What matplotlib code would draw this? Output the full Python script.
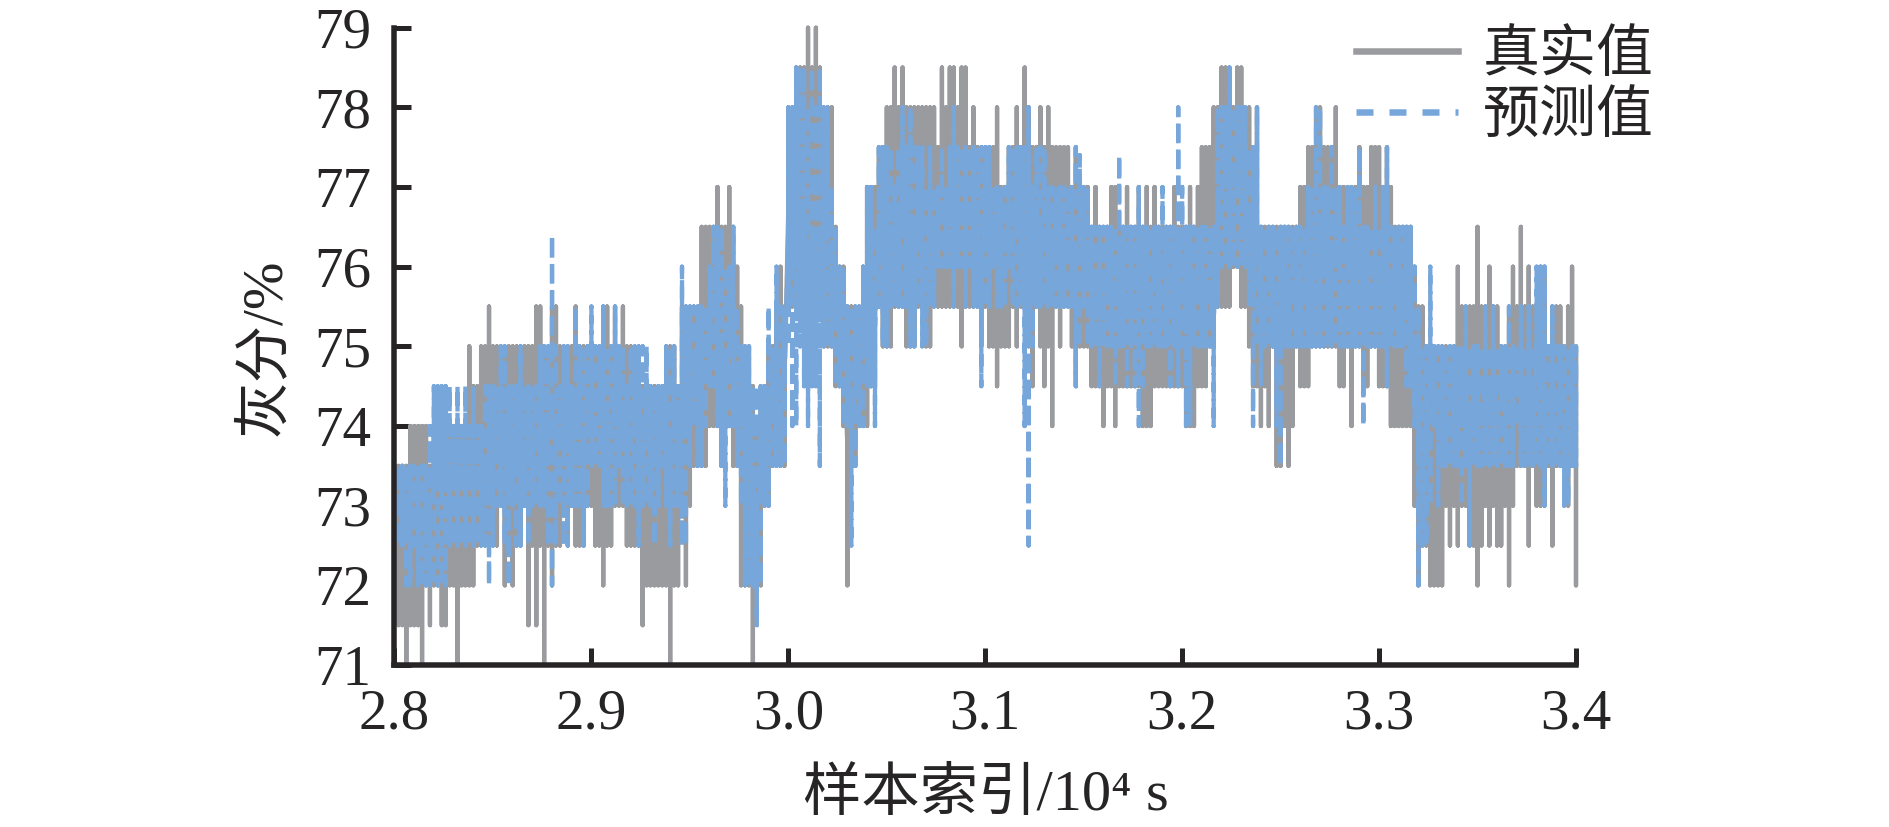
import numpy as np
import matplotlib
matplotlib.use("Agg")
import matplotlib.pyplot as plt
from matplotlib.lines import Line2D

plt.rcParams['font.family'] = ['Liberation Serif', 'Noto Sans CJK SC']
plt.rcParams['lines.scale_dashes'] = False

# 真实值: lower / upper excursion per 20 s window, per 0.1e4 s block
true_low_28 = [72.5,71.5,71.5,71,71.5,71.5,71.5,71,72,71.5,72,72,71.5,71.5,72,72,71,72,72,72,72,72.5,72.5,72.5,72.5,72.5,72.5,73,72,72.5,72,72.5,72.5,73,71.5,72.5,71.5,72.5,71,72.5,72,72.5,72.5,73,72.5,73,72.5,72.5,72.5,73]
true_high_28 = [73.5,73.5,73.5,73.5,74,74,74,74,74,73.5,74,74,74,74,74,74,74,74,74,75,74.5,74.5,75,75,75.5,75,75,75,75,75,75,75,75,75,75,75,75.5,75.5,75,75,75.5,75.5,75,75,75,75,75.5,75,75,75]
true_low_29 = [73,72.5,72.5,72,72.5,72.5,73,73,73,72.5,72.5,72.5,72.5,71.5,72,72,72,72,72,72,71,72,72,73,72,73,73.5,73.5,73.5,73.5,74,74,74,73.5,74,74,73.5,73.5,72,72,72,71,72,72,73,73,73.5,73.5,73.5,73.5]
true_high_29 = [75,75,75,75.5,75.5,75,75.5,75,75.5,75,75,74.5,74.5,74.5,74.5,74.5,74.5,74.5,74.5,75,75,75,74.5,75.5,75.5,75.5,75.5,75.5,76.5,76.5,76.5,76.5,77,76.5,76.5,77,76.5,76,75.5,75,75,74.5,74,74.5,74.5,75,75,75.5,76,75.5]
true_low_30 = [75.5,75.5,75.5,75.5,75.5,75.5,75.5,75.5,75.5,75,75,75,74.5,74.5,74,72,73.5,73.5,74,74,74,74.5,74.5,75.5,75,75,75,75.5,75.5,75.5,75,75,75,75.5,75.5,75,75,75.5,75.5,75.5,75.5,75.5,75.5,75.5,75,75.5,75.5,75.5,75.5,75]
true_high_30 = [78,78,78.5,78.5,78.5,79,78.5,79,78.5,78,78,78,76.5,76,76,75.5,75.5,75.5,75.5,76,77,77,77,77.5,77.5,78,78,78.5,78,78.5,78,78,78,78,78,78,78,78,77.5,78.5,78,78.5,78.5,78,78.5,78.5,77.5,78,77.5,77.5]
true_low_31 = [75.5,75,75,74.5,75,75,75,75.5,75,75.5,75.5,75,74.5,75.5,75,74.5,75,74,75.5,75,75.5,75.5,75,74.5,75,75,75,74.5,74.5,74.5,74,74.5,74.5,74,74.5,74.5,74.5,74.5,74.5,74.5,74,74,74,74.5,74.5,74.5,74.5,74.5,74.5,74.5]
true_high_31 = [77.5,77.5,77.5,78,77,77,77.5,77.5,78,77.5,78.5,78,77.5,77.5,78,77.5,78,77.5,77.5,77.5,77.5,77.5,77,77.5,77,77,77,76.5,77,76.5,76.5,76.5,77,77,76.5,76.5,77,76.5,76.5,77,76.5,77,76.5,77,76.5,76.5,76.5,76.5,77,76.5]
true_low_32 = [74.5,74,74,74,74.5,74.5,74.5,75,75,75.5,75.5,75.5,75.5,76,76,75.5,75.5,75,74.5,74.5,74,74.5,74,75,73.5,73.5,74,73.5,74,75,74.5,74.5,74.5,75,75,75,75,75,75,75,74.5,74.5,75,74,75,75,74.5,74.5,75,75]
true_high_32 = [76.5,76.5,77,76.5,77,77.5,77.5,77.5,78,78,78.5,78.5,78.5,78,78.5,78.5,78,78,77.5,78,76.5,76.5,76.5,76.5,76.5,76.5,76.5,76.5,76.5,76.5,77,77,77.5,77.5,78,78,77.5,77.5,77.5,78,77,77,77,77,77,77.5,77,77,77.5,77.5]
true_low_33 = [74.5,74.5,74.5,74,74,74,74,74,74,73,72,72.5,72.5,72,72,72,72,73,72.5,73,72.5,73,73,72.5,72.5,72,72.5,73,72.5,73,72.5,72.5,73,72,73,73.5,73.5,73.5,72.5,73.5,73,73,73,73.5,72.5,73.5,73.5,73.5,73,73.5,72]
true_high_33 = [77.5,77,77.5,77,76.5,76.5,76.5,76.5,76.5,76,75.5,75.5,75,75,75,75,75,75,75,75,76,75.5,75.5,75.5,75.5,76.5,75.5,75.5,76,75.5,75.5,75,75,75.5,76,75.5,76.5,75.5,76,75.5,75.5,76,76,75,75.5,75.5,75.5,75,75.5,76,75]

# 预测值
pred_low_28 = [72.5,72.5,72.5,72,72,72.5,72,72,72,72,72,72,72,72,72.5,72.5,72.5,72.5,72.5,72.5,72.5,72.5,72.5,72.5,72,72.5,73,73,72.5,72,73,72.5,72.5,73,72.5,73,73,73,73,72.5,72,72.5,73,72.5,72.5,73,73,73,72.5,73]
pred_high_28 = [73.5,73.5,73.5,73.5,73.5,73.5,73.5,73.5,73.5,74,74.5,74.5,74.5,74.5,74.5,74,74.5,74,74.5,74,74.5,74,74,74.5,74.5,74.5,74.5,75,75,74.5,74.5,74.5,75,74.5,74.5,74.5,74.5,75,75,75,76.4,75,74.5,75,75,74.5,75.5,75,75,75]
pred_low_29 = [73.5,73.5,73.5,73,73,73,73,73.5,73,73,73,73,72.5,73,73,73,72.5,73,73.5,73,72.5,73,73,72.5,72.5,73.5,74,73.5,73.5,74,74.5,74.5,74,73.5,73,74,74,73.5,73,72,72,72,71.5,72,73,73,73.5,73.5,73.5,73.5]
pred_high_29 = [75.5,75,75,75.5,75,75,75.5,75,75,74.5,75,75,75,75,75,74.5,74.5,74.5,74.5,75,75,75,74.5,76,75.5,75.5,75.5,75.5,75.5,75.5,76,76.5,76.5,76.5,76,76,76.5,75.5,75,75,75,74.5,74.5,74.5,74.5,75.5,75,76,75.5,75.5]
pred_low_30 = [75,74,74,75,74.5,74,74.5,74.5,73.5,75,75,75,74.5,74.5,74,74,72.5,73.5,74,74,74.5,74.5,74,75.5,75,75,75.5,75.5,75.5,75.5,75.5,75,75,75.5,75,75,75.5,75.5,76,76,76,76,75.5,76,76,75.5,76,75.5,75.5,74.5]
pred_high_30 = [78,78,78.5,78.5,78.5,78,78.5,78,78.5,78,78,77,76.5,76,76,75.5,75.5,75.5,75.5,76,77,77,76.5,77.5,77.5,77.5,77.5,77,77.5,78,77.5,78,77.5,77.5,77.5,77,77.5,77,77,77.5,77,77.5,78,77.5,77.5,77.5,77.5,77.5,77.5,77.5]
pred_low_31 = [75.5,75.5,76,75.5,75.5,75.5,76,75.5,75.5,75.5,74,72.5,75,75.5,75.5,75.5,75.5,75.5,75.5,75.5,75.5,75.5,75.5,74.5,75,75.5,75,75,75,74.5,75,75,75,74.5,75,75,74.5,75,74.5,74,74.5,75,75,75,75,75,75,74.5,75,74.5]
pred_high_31 = [77.5,77.5,77,77,77,77,77.5,77.5,77.5,77.5,77.5,78,77,77.5,77.5,77.5,77,77,77,77,77,77,77,77.5,77.4,77,77,76.5,76.5,76.5,76.5,76.5,76.5,76.5,77.4,76.5,76.5,76.5,76.5,77,76.5,76.5,76.5,76.5,76.5,77,76.5,76.5,76.5,78]
pred_low_32 = [75,74,74,75,75,75,75,75,74,75.5,76,76,76,76,76,76,76,75.5,74,75,74.5,75,75,75,74,73.5,75,75,75,75,75,75,75,75,75,75,75,75,75,75,75,75,75,75,75,75,74,75,75,75]
pred_high_32 = [77,76.5,76.5,76.5,76.5,76.5,76.5,76.5,76.5,78,78,78,78.5,78,78,78,78,77.5,77.5,78,76.5,76.5,76.5,76.5,76.5,76.5,76.5,76.5,76.5,76.5,76.5,76.5,77,77,78,78,77,77,77.5,77,77,76.5,77,77,77,77.5,76.5,76.5,76.5,77]
pred_low_33 = [75,75,74.5,75,75,75,75,74.5,74.5,74,72,72.5,72.5,73,74,73,73.5,73.5,73.5,73.5,73.5,73,73.5,72.5,73.5,73.5,73.5,73.5,73.5,73.5,73.5,73.5,73.5,73.5,73.5,74,73.5,73.5,73.5,73.5,73.5,73.5,73,73.5,73.5,73.5,73.5,73,73,73.5,73.5]
pred_high_33 = [76.5,77,77.5,76.5,76.5,76.5,76.5,76.5,76.5,76,75.5,75,75,76,75,75,75,75,75,75,75,75,75.5,75,75,75,75,75.5,75,75.5,75,75,75,75.5,75,75,75.5,75,75.5,75,76,76,76,75,75.5,75,75,75,75,75,75]

x_ticks = [2.8, 2.9, 3.0, 3.1, 3.2, 3.3, 3.4]
x_tick_labels = ['2.8', '2.9', '3.0', '3.1', '3.2', '3.3', '3.4']
y_ticks = [71, 72, 73, 74, 75, 76, 77, 78, 79]
label_true = '真实值'
label_pred = '预测值'
x_label = '样本索引/10⁴ s'
y_label = '灰分/%'

GRAY = '#9a9b9f'
BLUE = '#77a6da'
INK = '#262425'
PX = 0.72


def strokes(low, high):
    """Vertical excursion per window; windows are joined inside their common band."""
    low, high = np.asarray(low, float), np.asarray(high, float)
    t = 2.8 + 0.002 * np.arange(low.size)
    mid = (low + high) / 2
    xs = np.repeat(t, 4)
    ys = np.column_stack([mid, high, low, mid]).ravel()
    return xs, ys


true_low = true_low_28 + true_low_29 + true_low_30 + true_low_31 + true_low_32 + true_low_33
true_high = true_high_28 + true_high_29 + true_high_30 + true_high_31 + true_high_32 + true_high_33
pred_low = pred_low_28 + pred_low_29 + pred_low_30 + pred_low_31 + pred_low_32 + pred_low_33
pred_high = pred_high_28 + pred_high_29 + pred_high_30 + pred_high_31 + pred_high_32 + pred_high_33

fig = plt.figure(figsize=(18.9, 8.27), dpi=100)
ax = fig.add_axes([394.5 / 1890, 1 - 665 / 827, 1181.5 / 1890, 637.3 / 827])

tx, ty = strokes(true_low, true_high)
px, py = strokes(pred_low, pred_high)
ax.plot(tx, ty, color=GRAY, lw=4.3 * PX, solid_joinstyle='round', solid_capstyle='round', clip_on=False, zorder=2)
ax.plot(px, py, color=BLUE, lw=4.3 * PX, linestyle=(0, (19 * PX, 7 * PX)), dash_capstyle='butt',
        dash_joinstyle='round', clip_on=False, zorder=3)

ax.set_xlim(2.8, 3.4)
ax.set_ylim(71, 79)
ax.set_xticks(x_ticks, x_tick_labels)
ax.set_yticks(y_ticks)
ax.tick_params(axis='both', direction='in', length=17 * PX, width=5 * PX, color=INK,
               labelsize=41, labelcolor=INK)
ax.tick_params(axis='x', pad=17)
ax.tick_params(axis='y', pad=17)
for side in ('top', 'right'):
    ax.spines[side].set_visible(False)
for side in ('left', 'bottom'):
    ax.spines[side].set_linewidth(5.5 * PX)
    ax.spines[side].set_color(INK)
    ax.spines[side].set_zorder(5)

ax.set_xlabel(x_label, fontsize=42, color=INK, va='center')
ax.xaxis.set_label_coords((986 - 394.5) / 1181.5, (665 - 795) / 637.3)
ax.set_ylabel(y_label, fontsize=41, color=INK, va='center')
ax.yaxis.set_label_coords((265 - 394.5) / 1181.5, (665 - 347) / 637.3)

handles = [
    Line2D([], [], color=GRAY, lw=6.5 * PX),
    Line2D([], [], color=BLUE, lw=6.5 * PX, linestyle=(0, (17 * PX, 16 * PX)), dash_capstyle='butt'),
]
leg = ax.legend(handles, [label_true, label_pred], loc='upper left', frameon=False, fontsize=41,
                bbox_to_anchor=((1356 - 394.5) / 1181.5, 0.997), borderaxespad=0, borderpad=0,
                handlelength=1.8, handletextpad=0.42, labelspacing=0.15, labelcolor=INK)
leg.set_zorder(6)

fig.savefig('out.png', dpi=100)
